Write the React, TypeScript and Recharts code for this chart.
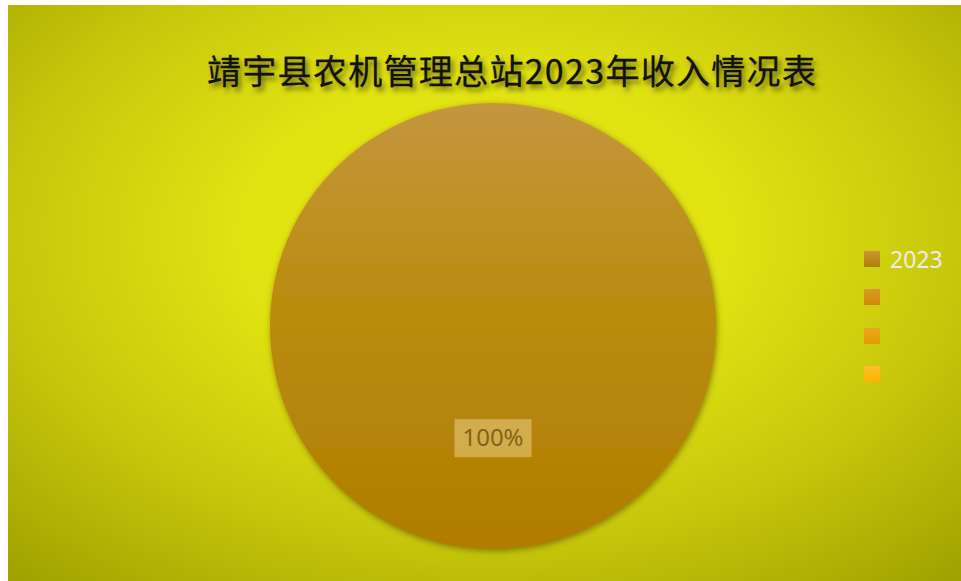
import React from "react";
import { PieChart, Pie, Cell, Legend } from "recharts";

const title = "靖宇县农机管理总站2023年收入情况表";
const categories = ["2023", "", "", ""];
const values = [100, 0, 0, 0];
const legendTop = ["#c8963a", "#d99a26", "#eca51e", "#ffbd2a"];
const legendBottom = ["#b27f00", "#cf8b00", "#e59a00", "#ffb300"];

const data = categories.map((name, i) => ({ name, value: values[i] }));

const W = 953;
const H = 576;
const CX = 480;
const CY = 316;
const R = 223;

const renderLabel = (props: any) => {
  const { cx, cy, midAngle, outerRadius, percent, value } = props;
  if (!value) return null;
  const RAD = Math.PI / 180;
  const r = outerRadius * 0.503;
  const x = cx + r * Math.cos(-midAngle * RAD);
  const y = cy + r * Math.sin(-midAngle * RAD);
  const txt = `${Math.round(percent * 100)}%`;
  return (
    <g>
      <rect x={x - 38.5} y={y - 19} width={77} height={38} fill="#e6c878" fillOpacity={0.6} />
      <text x={x} y={y + 1} textAnchor="middle" dominantBaseline="middle" fill="#806414" fontSize={24} fontFamily="'Noto Sans', sans-serif">
        {txt}
      </text>
    </g>
  );
};

const renderLegend = () => (
  <div>
    {categories.map((c, i) => (
      <div key={i} style={{ display: "flex", alignItems: "center", height: 38.3 }}>
        <div style={{ width: 16, height: 16, background: `linear-gradient(${legendTop[i]}, ${legendBottom[i]})` }} />
        <span style={{ marginLeft: 10, fontSize: 23, color: "#ececec", fontFamily: "'Noto Sans', sans-serif", lineHeight: "24px" }}>{c}</span>
      </div>
    ))}
  </div>
);

export default function App() {
  return (
    <div style={{ position: "absolute", left: 8, top: 5, width: W, height: H, background: "radial-gradient(ellipse 75% 80% at 50% 40%, #e8ea10 0%, #e0e212 35%, #c8c80c 65%, #a0a000 100%)", overflow: "hidden" }}>
      <div style={{ position: "absolute", left: 199, top: 48, fontFamily: "'Noto Sans CJK SC', sans-serif", fontWeight: 400, fontSize: 34, lineHeight: "34px", letterSpacing: 1.3, color: "#111", WebkitTextStroke: "0.3px #111", textShadow: "3px 4px 5px rgba(60,60,0,0.75)", whiteSpace: "nowrap" }}>
        {title}
      </div>
      <div style={{ position: "absolute", left: 0, top: 0 }}>
        <PieChart width={W} height={H}>
          <defs>
            <linearGradient id="pieGrad" x1="0" y1="0" x2="0" y2="1">
              <stop offset="0%" stopColor="#c4963e" />
              <stop offset="45%" stopColor="#bb8c10" />
              <stop offset="100%" stopColor="#b07d00" />
            </linearGradient>
            <filter id="pieShadow" x="-20%" y="-20%" width="140%" height="140%">
              <feDropShadow dx="1" dy="2" stdDeviation="3" floodColor="#6a5a00" floodOpacity="0.7" />
            </filter>
          </defs>
          <Pie
            data={data}
            dataKey="value"
            nameKey="name"
            cx={CX}
            cy={CY}
            outerRadius={R}
            startAngle={90}
            endAngle={-270}
            stroke="none"
            label={renderLabel}
            labelLine={false}
            isAnimationActive={false}
            style={{ filter: "url(#pieShadow)" }}
          >
            {data.map((d, i) => (
              <Cell key={i} fill={i === 0 ? "url(#pieGrad)" : legendBottom[i]} />
            ))}
          </Pie>
          <Legend content={renderLegend} wrapperStyle={{ position: "absolute", left: 856, top: 235, width: 95, bottom: "auto" }} />
        </PieChart>
      </div>
    </div>
  );
}
